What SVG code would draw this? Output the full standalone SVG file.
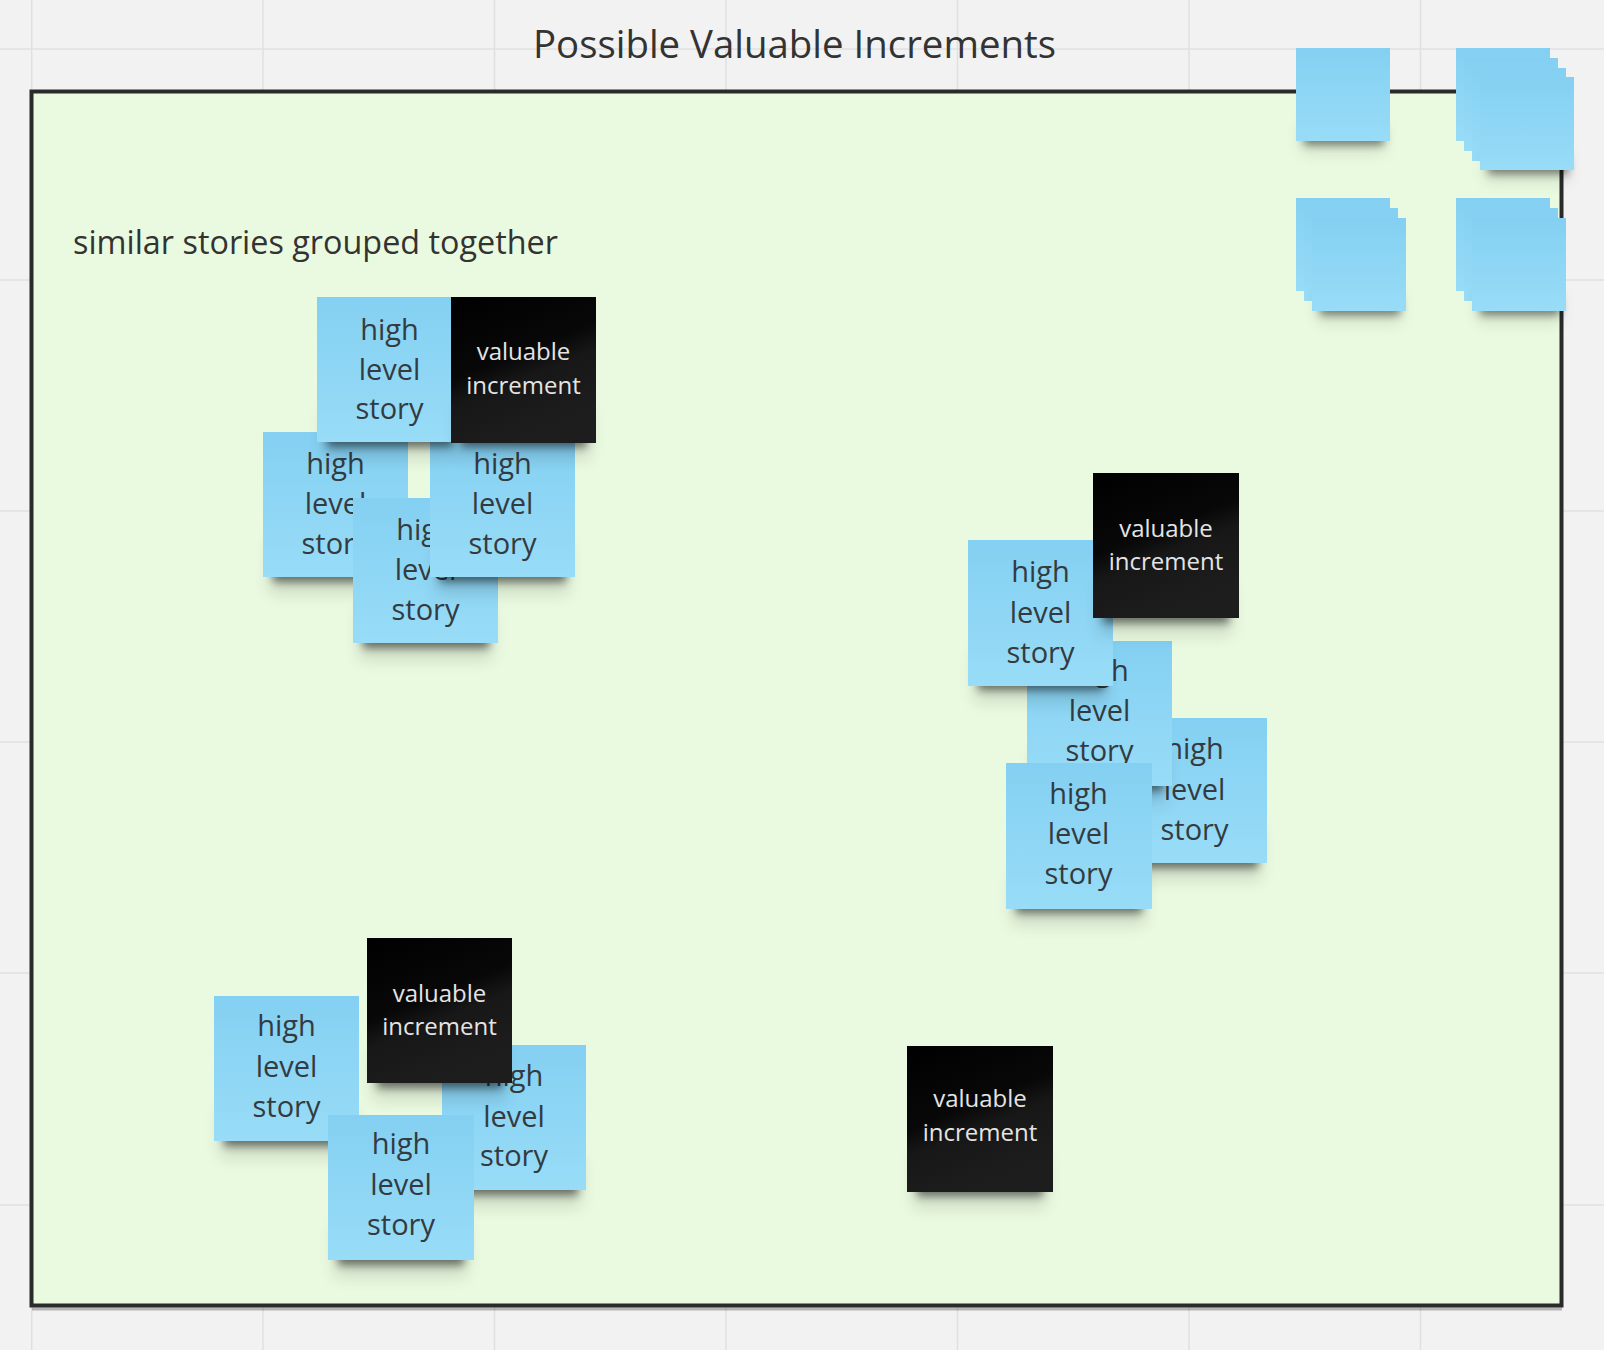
<svg xmlns="http://www.w3.org/2000/svg" xmlns:xlink="http://www.w3.org/1999/xlink" width="1604" height="1350" viewBox="0 0 1604 1350">
<style>
.grid{stroke:#e0e0e0;stroke-width:1.5}
.b{fill:url(#gBlue)}
.k{fill:url(#gBlack)}
.t{font-family:"Open Sans","Liberation Sans",sans-serif;font-size:29px;fill:#333b40;text-anchor:middle}
.w{font-family:"Open Sans","Liberation Sans",sans-serif;font-size:24px;fill:#e4e4e4;text-anchor:middle}
.title{font-family:"Open Sans","Liberation Sans",sans-serif;font-size:38px;fill:#333;text-anchor:middle}
.lbl{font-family:"Open Sans","Liberation Sans",sans-serif;font-size:32px;fill:#333}
</style>
<defs>
<linearGradient id="gBlue" x1="0" y1="0" x2="0" y2="1"><stop offset="0" stop-color="#84d0f2"/><stop offset="1" stop-color="#98dcf7"/></linearGradient>
<linearGradient id="gBlack" x1="0" y1="0" x2="0.4" y2="1"><stop offset="0" stop-color="#000"/><stop offset="0.5" stop-color="#080808"/><stop offset="0.65" stop-color="#171717"/><stop offset="1" stop-color="#1d1d1d"/></linearGradient>
<filter id="blur" x="-30%" y="-100%" width="160%" height="300%"><feGaussianBlur stdDeviation="4"/></filter>
<filter id="blur2" x="-30%" y="-100%" width="160%" height="300%"><feGaussianBlur stdDeviation="8"/></filter>
<g id="sh"><rect x="6" y="110" width="133" height="52" fill="#000" opacity="0.12" filter="url(#blur2)"/><rect x="10" y="128" width="126" height="22" fill="#000" opacity="0.5" filter="url(#blur)"/></g>
<g id="shs"><rect x="5" y="75" width="84" height="30" fill="#000" opacity="0.1" filter="url(#blur2)"/><rect x="8" y="80" width="80" height="17" fill="#000" opacity="0.45" filter="url(#blur)"/></g>
</defs>
<rect width="1604" height="1350" fill="#f2f2f2"/>
<g id="grid">
<line class="grid" x1="31.7" y1="0" x2="31.7" y2="1350"/>
<line class="grid" x1="263" y1="0" x2="263" y2="1350"/>
<line class="grid" x1="494.5" y1="0" x2="494.5" y2="1350"/>
<line class="grid" x1="726" y1="0" x2="726" y2="1350"/>
<line class="grid" x1="957.5" y1="0" x2="957.5" y2="1350"/>
<line class="grid" x1="1189" y1="0" x2="1189" y2="1350"/>
<line class="grid" x1="1420.5" y1="0" x2="1420.5" y2="1350"/>
<line class="grid" x1="0" y1="49" x2="1604" y2="49"/>
<line class="grid" x1="0" y1="280" x2="1604" y2="280"/>
<line class="grid" x1="0" y1="511" x2="1604" y2="511"/>
<line class="grid" x1="0" y1="742" x2="1604" y2="742"/>
<line class="grid" x1="0" y1="973" x2="1604" y2="973"/>
<line class="grid" x1="0" y1="1205" x2="1604" y2="1205"/>
</g>
<text class="title" x="794.5" y="58" textLength="523" lengthAdjust="spacingAndGlyphs">Possible Valuable Increments</text>
<g id="frame">
<line x1="32" y1="1309" x2="1562" y2="1309" stroke="#000" stroke-opacity="0.25" stroke-width="3"/>
<rect x="31.5" y="91.5" width="1530" height="1214" fill="#eafae0" stroke="#2a2a2a" stroke-width="4"/>
</g>
<text class="lbl" x="73" y="254" textLength="485" lengthAdjust="spacingAndGlyphs">similar stories grouped together</text>
<g id="connectors"/>
<!-- top-left group -->
<g id="story-c" transform="translate(263,432)"><use href="#sh"/><rect class="b" width="145" height="145"/><text class="t" x="72.5" y="42">high</text><text class="t" x="72.5" y="82">level</text><text class="t" x="72.5" y="122">story</text></g>
<g id="story-d" transform="translate(353,498)"><use href="#sh"/><rect class="b" width="145" height="145"/><text class="t" x="72.5" y="42">high</text><text class="t" x="72.5" y="82">level</text><text class="t" x="72.5" y="122">story</text></g>
<g id="story-e" transform="translate(430,432)"><use href="#sh"/><rect class="b" width="145" height="145"/><text class="t" x="72.5" y="42">high</text><text class="t" x="72.5" y="82">level</text><text class="t" x="72.5" y="122">story</text></g>
<g id="story-a" transform="translate(317,297)"><use href="#sh"/><rect class="b" width="145" height="145"/><text class="t" x="72.5" y="43">high</text><text class="t" x="72.5" y="83">level</text><text class="t" x="72.5" y="122">story</text></g>
<g id="inc-b" transform="translate(451,297)"><use href="#sh"/><rect class="k" width="145" height="146"/><text class="w" x="72.5" y="63">valuable</text><text class="w" x="72.5" y="97">increment</text></g>
<!-- right group -->
<g id="story-j" transform="translate(1122,718)"><use href="#sh"/><rect class="b" width="145" height="145"/><text class="t" x="72.5" y="41">high</text><text class="t" x="72.5" y="82">level</text><text class="t" x="72.5" y="122">story</text></g>
<g id="story-h" transform="translate(1027,641)"><use href="#sh"/><rect class="b" width="145" height="145"/><text class="t" x="72.5" y="40">high</text><text class="t" x="72.5" y="80">level</text><text class="t" x="72.5" y="120">story</text></g>
<g id="story-g" transform="translate(968,540)"><use href="#sh"/><rect class="b" width="145" height="146"/><text class="t" x="72.5" y="42">high</text><text class="t" x="72.5" y="83">level</text><text class="t" x="72.5" y="123">story</text></g>
<g id="inc-f" transform="translate(1093,473)"><use href="#sh"/><rect class="k" width="146" height="145"/><text class="w" x="73" y="64">valuable</text><text class="w" x="73" y="97">increment</text></g>
<g id="story-i" transform="translate(1006,763)"><use href="#sh"/><rect class="b" width="146" height="146"/><text class="t" x="72.5" y="41">high</text><text class="t" x="72.5" y="81">level</text><text class="t" x="72.5" y="121">story</text></g>
<!-- bottom-left group -->
<g id="story-l" transform="translate(214,996)"><use href="#sh"/><rect class="b" width="145" height="145"/><text class="t" x="72.5" y="40">high</text><text class="t" x="72.5" y="81">level</text><text class="t" x="72.5" y="121">story</text></g>
<g id="story-m" transform="translate(442,1045)"><use href="#sh"/><rect class="b" width="144" height="145"/><text class="t" x="72" y="41">high</text><text class="t" x="72" y="82">level</text><text class="t" x="72" y="121">story</text></g>
<g id="inc-k" transform="translate(367,938)"><use href="#sh"/><rect class="k" width="145" height="145"/><text class="w" x="72.5" y="64">valuable</text><text class="w" x="72.5" y="97">increment</text></g>
<g id="story-n" transform="translate(328,1115)"><use href="#sh"/><rect class="b" width="146" height="145"/><text class="t" x="73" y="39">high</text><text class="t" x="73" y="80">level</text><text class="t" x="73" y="120">story</text></g>
<!-- lone increment -->
<g id="inc-o" transform="translate(907,1046)"><use href="#sh"/><rect class="k" width="146" height="146"/><text class="w" x="73" y="61">valuable</text><text class="w" x="73" y="95">increment</text></g>
<!-- top-right stacks -->
<g id="stack-1"><g transform="translate(1296,48)"><use href="#shs"/><rect class="b" width="94" height="93"/></g></g>
<g id="stack-2">
<g transform="translate(1456,48)"><rect class="b" width="94" height="93"/></g>
<g transform="translate(1464,58)"><rect class="b" width="94" height="93"/></g>
<g transform="translate(1472,68)"><rect class="b" width="94" height="93"/></g>
<g transform="translate(1480,77)"><use href="#shs"/><rect class="b" width="94" height="93"/></g>
</g>
<g id="stack-3">
<g transform="translate(1296,198)"><rect class="b" width="94" height="93"/></g>
<g transform="translate(1304,208)"><rect class="b" width="94" height="93"/></g>
<g transform="translate(1312,218)"><use href="#shs"/><rect class="b" width="94" height="93"/></g>
</g>
<g id="stack-4">
<g transform="translate(1456,198)"><rect class="b" width="94" height="93"/></g>
<g transform="translate(1464,208)"><rect class="b" width="94" height="93"/></g>
<g transform="translate(1472,218)"><use href="#shs"/><rect class="b" width="94" height="93"/></g>
</g>
</svg>
